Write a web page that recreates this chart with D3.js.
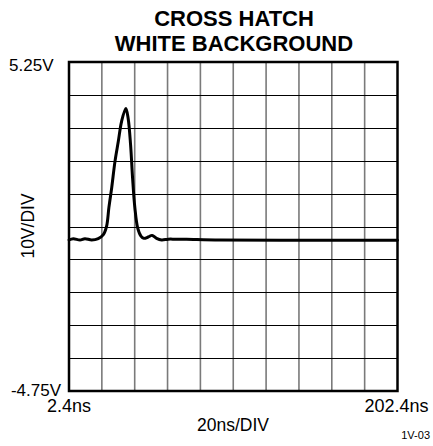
<!DOCTYPE html>
<html>
<head>
<meta charset="utf-8">
<script src="https://cdn.jsdelivr.net/npm/d3@7"></script>
<style>
html,body{margin:0;padding:0;background:#fff;}
svg{display:block;font-family:"Liberation Sans",Arial,sans-serif;}
</style>
</head>
<body>
<svg id="chart" width="433" height="446"></svg>
<script>
const titleLines = ["CROSS HATCH", "WHITE BACKGROUND"];
const xDomain = [2.4, 202.4];   // ns
const yDomain = [-4.75, 5.25];  // V
const xDivisions = 10;
const yDivisions = 10;
const xTickLabels = ["2.4ns", "202.4ns"];
const yTickLabels = ["-4.75V", "5.25V"];
const xAxisTitle = "20ns/DIV";
const yAxisTitle = "10V/DIV";
const footnote = "1V-03";

// waveform samples: time (ns), voltage (V)
const timeNs = [2.4, 5.0, 9.1, 12.1, 16.2, 20.2, 23.3, 25.3, 26.7, 28.4, 30.4, 32.4, 34.4, 37.0, 38.4, 39.9, 41.1, 42.5, 44.2, 46.2, 48.0, 50.6, 53.0, 55.7, 58.8, 62.8, 66.9, 74.0, 94.2, 142.4, 202.4];
const volts  = [-0.16, -0.12, -0.16, -0.12, -0.16, -0.12, 0.0, 0.26, 0.83, 1.43, 2.23, 2.83, 3.44, 3.84, 3.54, 2.73, 1.73, 0.82, 0.21, -0.04, -0.11, -0.07, -0.02, -0.11, -0.16, -0.135, -0.135, -0.14, -0.16, -0.165, -0.17];

const svg = d3.select("#chart");
const L = 69, R = 397.5, T = 62, B = 391;

const x = d3.scaleLinear().domain(xDomain).range([L, R]);
const y = d3.scaleLinear().domain(yDomain).range([B, T]);

// title
svg.append("g").selectAll("text").data(titleLines).join("text")
  .attr("x", 234).attr("y", (d, i) => 25.5 + i * 25)
  .attr("text-anchor", "middle")
  .attr("font-size", 22).attr("font-weight", "bold")
  .attr("fill", "#000")
  .text(d => d);

// grid
const xStep = (xDomain[1] - xDomain[0]) / xDivisions;
const yStep = (yDomain[1] - yDomain[0]) / yDivisions;
const xGrid = d3.range(1, xDivisions).map(i => xDomain[0] + i * xStep);
const yGrid = d3.range(1, yDivisions).map(i => yDomain[0] + i * yStep);

svg.append("g").selectAll("line").data(xGrid).join("line")
  .attr("x1", d => x(d)).attr("x2", d => x(d))
  .attr("y1", T).attr("y2", B)
  .attr("stroke", "#7a7a7a").attr("stroke-width", 1.6);

svg.append("g").selectAll("line").data(yGrid).join("line")
  .attr("x1", L).attr("x2", R)
  .attr("y1", d => Math.round(y(d)) + 0.5).attr("y2", d => Math.round(y(d)) + 0.5)
  .attr("stroke", "#000").attr("stroke-width", 1);

// waveform
const data = timeNs.map((t, i) => ({t, v: volts[i]}));
const line = d3.line().x(d => x(d.t)).y(d => y(d.v)).curve(d3.curveCatmullRom.alpha(0.5));
svg.append("path").datum(data)
  .attr("d", line)
  .attr("fill", "none").attr("stroke", "#000")
  .attr("stroke-width", 3).attr("stroke-linejoin", "round").attr("stroke-linecap", "round");

// frame
svg.append("rect")
  .attr("x", L).attr("y", T).attr("width", R - L).attr("height", B - T)
  .attr("fill", "none").attr("stroke", "#000").attr("stroke-width", 2.5);

// y labels
svg.append("text").attr("x", 53.5).attr("y", 71).attr("text-anchor", "end")
  .attr("font-size", 17).text(yTickLabels[1]);
svg.append("text").attr("x", 61).attr("y", 396).attr("text-anchor", "end")
  .attr("font-size", 17).text(yTickLabels[0]);

// x labels
svg.append("text").attr("x", x(xDomain[0])).attr("y", 412).attr("text-anchor", "middle")
  .attr("font-size", 18).text(xTickLabels[0]);
svg.append("text").attr("x", x(xDomain[1]) - 1).attr("y", 412).attr("text-anchor", "middle")
  .attr("font-size", 18).text(xTickLabels[1]);

svg.append("text").attr("x", 233).attr("y", 431).attr("text-anchor", "middle")
  .attr("font-size", 17.5).text(xAxisTitle);

svg.append("text")
  .attr("transform", "translate(34.3,226) rotate(-90)")
  .attr("text-anchor", "middle")
  .attr("font-size", 17.5).text(yAxisTitle);

svg.append("text").attr("x", 430).attr("y", 439).attr("text-anchor", "end")
  .attr("font-size", 11).text(footnote);
</script>
</body>
</html>
